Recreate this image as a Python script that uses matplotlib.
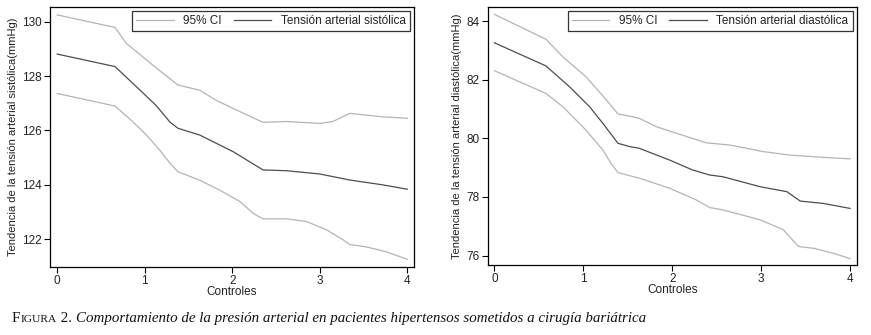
import matplotlib
matplotlib.use("Agg")
import matplotlib.pyplot as plt

plt.rcParams["font.family"] = ["Liberation Sans", "DejaVu Sans"]

# Panel izquierdo: tensión arterial sistólica (mmHg)
sis_x = [0, 0.66, 0.98, 1.135, 1.29, 1.38, 1.63, 2.01, 2.35, 2.62, 3.0, 3.34, 3.72, 4.0]
sis_mean = [128.81, 128.35, 127.38, 126.9, 126.3, 126.08, 125.83, 125.22, 124.55,
            124.52, 124.4, 124.18, 124.0, 123.84]
sis_up_x = [0, 0.66, 0.79, 0.98, 1.17, 1.38, 1.63, 1.82, 2.09, 2.35, 2.62, 3.0,
            3.15, 3.34, 3.72, 4.0]
sis_up = [130.25, 129.79, 129.2, 128.7, 128.2, 127.67, 127.48, 127.1, 126.69, 126.3,
          126.33, 126.26, 126.33, 126.63, 126.5, 126.45]
sis_lo_x = [0, 0.66, 0.87, 1.02, 1.17, 1.29, 1.38, 1.63, 1.86, 2.09, 2.24, 2.35,
            2.62, 2.85, 3.08, 3.27, 3.34, 3.53, 3.76, 4.0]
sis_lo = [127.36, 126.9, 126.3, 125.83, 125.28, 124.79, 124.48, 124.17, 123.8, 123.38,
          122.95, 122.75, 122.75, 122.65, 122.34, 121.97, 121.81, 121.72, 121.54, 121.26]

# Panel derecho: tensión arterial diastólica (mmHg)
dia_x = [0, 0.58, 0.845, 1.07, 1.22, 1.39, 1.52, 1.63, 1.97, 2.23, 2.42, 2.57, 2.99,
         3.29, 3.44, 3.7, 4.0]
dia_mean = [83.26, 82.47, 81.76, 81.08, 80.51, 79.83, 79.72, 79.66, 79.26, 78.92,
            78.75, 78.69, 78.35, 78.18, 77.86, 77.78, 77.61]
dia_up_x = [0, 0.58, 0.77, 1.03, 1.26, 1.39, 1.52, 1.63, 1.82, 2.05, 2.38, 2.65,
            3.02, 3.32, 3.7, 4.0]
dia_up = [84.23, 83.38, 82.78, 82.1, 81.31, 80.83, 80.76, 80.68, 80.4, 80.17, 79.85,
          79.77, 79.55, 79.43, 79.35, 79.3]
dia_lo_x = [0, 0.58, 0.77, 1.03, 1.22, 1.31, 1.39, 1.63, 1.97, 2.27, 2.42, 2.57,
            2.99, 3.25, 3.42, 3.59, 3.81, 4.0]
dia_lo = [82.31, 81.53, 81.08, 80.28, 79.6, 79.15, 78.83, 78.64, 78.3, 77.9, 77.64,
          77.56, 77.22, 76.88, 76.31, 76.25, 76.08, 75.9]

CI_COLOR = "#b4b4b4"
MEAN_COLOR = "#4d4d4d"
TEXT_COLOR = "#222222"

fig = plt.figure(figsize=(8.71, 3.35), dpi=100)

panels = [
    ([0.0574, 0.203, 0.418, 0.776], sis_x, sis_mean, sis_up_x, sis_up, sis_lo_x, sis_lo,
     "Tensión arterial sistólica", "Tendencia de la tensión arterial sistólica(mmHg)",
     [122, 124, 126, 128, 130], (120.98, 130.54), (-0.083, 4.077)),
    ([0.560, 0.209, 0.4236, 0.770], dia_x, dia_mean, dia_up_x, dia_up, dia_lo_x, dia_lo,
     "Tensión arterial diastólica", "Tendencia de la tensión arterial diastólica(mmHg)",
     [76, 78, 80, 82, 84], (75.68, 84.48), (-0.075, 4.075)),
]

for rect, x, mean, ux, up, lx, lo, label, ylabel, yticks, ylim, xlim in panels:
    ax = fig.add_axes(rect)
    ax.plot(ux, up, color=CI_COLOR, lw=0.9, label="95% CI")
    ax.plot(lx, lo, color=CI_COLOR, lw=0.9)
    ax.plot(x, mean, color=MEAN_COLOR, lw=0.9, label=label)
    ax.set_xlim(*xlim)
    ax.set_ylim(*ylim)
    ax.set_xticks([0, 1, 2, 3, 4])
    ax.set_yticks(yticks)
    ax.tick_params(direction="out", length=4, width=0.8, labelsize=8.5,
                   colors="black", labelcolor=TEXT_COLOR, pad=2)
    ax.set_xlabel("Controles", fontsize=8.5, color=TEXT_COLOR, labelpad=-1)
    ax.set_ylabel(ylabel, fontsize=8, color=TEXT_COLOR, labelpad=3)
    for sp in ax.spines.values():
        sp.set_linewidth(0.9)
    leg = ax.legend(loc="upper right", ncol=2, fontsize=8.5, frameon=True,
                    fancybox=False, edgecolor="black", handlelength=3.2,
                    columnspacing=1.0, borderpad=0.35, borderaxespad=0.35,
                    handletextpad=0.8)
    leg.get_frame().set_linewidth(0.9)
    for t in leg.get_texts():
        t.set_color(TEXT_COLOR)

# Pie de figura: "FIGURA" en versalitas y el resto en cursiva
serif = ["Liberation Serif", "DejaVu Serif"]
renderer = fig.canvas.get_renderer()
caption = [("F", 10.8, "normal", 0), ("IGURA", 8.2, "normal", 0), (" 2.", 10.8, "normal", 0),
           ("Comportamiento de la presión arterial en pacientes hipertensos "
            "sometidos a cirugía bariátrica", 10.8, "italic", 4)]
xpos = 12
for txt, size, style, gap in caption:
    xpos += gap
    t = fig.text(xpos / 871, 0.04, txt, fontsize=size, family=serif, style=style,
                 color="#111111")
    xpos += t.get_window_extent(renderer).width

fig.savefig("out.png", dpi=100)
